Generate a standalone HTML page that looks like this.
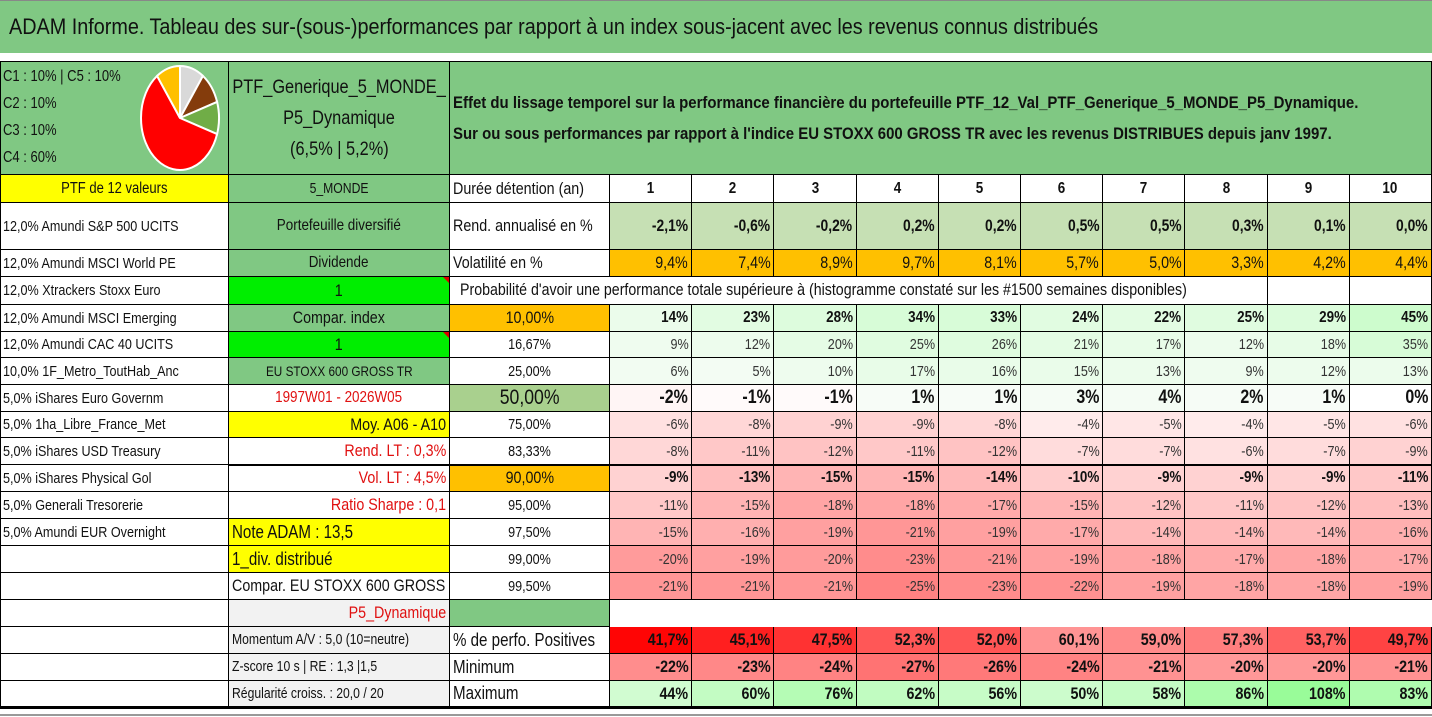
<!DOCTYPE html>
<html><head><meta charset="utf-8">
<style>
html,body{margin:0;padding:0;background:#fff;}
#root{position:relative;width:1432px;height:717px;overflow:hidden;font-family:"Liberation Sans",sans-serif;color:#111;}
.c{position:absolute;box-sizing:border-box;display:flex;align-items:center;overflow:hidden;white-space:nowrap;}
.c span{display:inline-block;transform:scaleX(0.84);}
.l{justify-content:flex-start;padding-left:3px;}
.l span{transform-origin:left center;}
.r{justify-content:flex-end;padding-right:3px;}
.r span{transform-origin:right center;}
.m{justify-content:center;}
.m span{transform-origin:center center;}
.ln{position:absolute;background:#000;}
</style></head><body>
<div id="root"></div>
<script>
const years = ["1","2","3","4","5","6","7","8","9","10"];
const rendAnnualise = [-2.1,-0.6,-0.2,0.2,0.2,0.5,0.5,0.3,0.1,0.0];
const volatilite = [9.4,7.4,8.9,9.7,8.1,5.7,5.0,3.3,4.2,4.4];
const quantileLabels = ["10,00%","16,67%","25,00%","50,00%","75,00%","83,33%","90,00%","95,00%","97,50%","99,00%","99,50%"];
const q10 = [14,23,28,34,33,24,22,25,29,45];
const q1667 = [9,12,20,25,26,21,17,12,18,35];
const q25 = [6,5,10,17,16,15,13,9,12,13];
const q50 = [-2,-1,-1,1,1,3,4,2,1,0];
const q75 = [-6,-8,-9,-9,-8,-4,-5,-4,-5,-6];
const q8333 = [-8,-11,-12,-11,-12,-7,-7,-6,-7,-9];
const q90 = [-9,-13,-15,-15,-14,-10,-9,-9,-9,-11];
const q95 = [-11,-15,-18,-18,-17,-15,-12,-11,-12,-13];
const q975 = [-15,-16,-19,-21,-19,-17,-14,-14,-14,-16];
const q99 = [-20,-19,-20,-23,-21,-19,-18,-17,-18,-17];
const q995 = [-21,-21,-21,-25,-23,-22,-19,-18,-18,-19];
const pctPositives = [41.7,45.1,47.5,52.3,52.0,60.1,59.0,57.3,53.7,49.7];
const minimum = [-22,-23,-24,-27,-26,-24,-21,-20,-20,-21];
const maximum = [44,60,76,62,56,50,58,86,108,83];
const pieLabels = ["C1","C2","C3","C4","C5"];
const pieShares = [10,10,10,60,10];
const holdings = ["12,0% Amundi S&P 500 UCITS","12,0% Amundi MSCI World PE","12,0% Xtrackers Stoxx Euro","12,0% Amundi MSCI Emerging","12,0% Amundi CAC 40 UCITS","10,0% 1F_Metro_ToutHab_Anc","5,0% iShares Euro Governm","5,0% 1ha_Libre_France_Met","5,0% iShares USD Treasury","5,0% iShares Physical Gol","5,0% Generali Tresorerie","5,0% Amundi EUR Overnight"];

const root = document.getElementById('root');
const RY = [175,203,250,277,305,332,358,385,412,438,465,492,519,546,573,600,627,654,681,707];
const X0 = 610, CW = 82.2;
function colX(i){ return X0 + i*CW; }
function cell(x,y,w,h,txt,o){
  o=o||{};
  const d=document.createElement('div');
  d.className='c '+(o.a||'m');
  d.style.left=x+'px';d.style.top=y+'px';d.style.width=w+'px';d.style.height=h+'px';
  if(o.bg) d.style.background=o.bg;
  d.style.fontSize=(o.fs||13)+'px';
  if(o.b) d.style.fontWeight='bold';
  if(o.col) d.style.color=o.col;
  if(o.border!==false){d.style.borderRight='1px solid #000';d.style.borderBottom='1px solid #000';}
  if(txt!==''&&txt!=null){const s=document.createElement('span');s.textContent=txt;if(o.sx)s.style.transform='scaleX('+o.sx+')';d.appendChild(s);}
  root.appendChild(d);
  return d;
}
function fmtPct(v,dec){return v.toFixed(dec).replace('.',',')+'%';}
function redCol(v,max){const t=Math.min(1,Math.abs(v)/max);const c=Math.round(255-150*t);return 'rgb(255,'+c+','+c+')';}
function greenCol(v,max){const t=Math.min(1,v/max);const c=Math.round(248-110*t);return 'rgb('+c+',252,'+c+')';}
function heat(v){ if(v<0) return redCol(v,30); if(v===0) return '#fff'; return greenCol(v,115); }

// Title
let d=cell(0,0,1432,53,'ADAM Informe. Tableau des sur-(sous-)performances par rapport à un index sous-jacent avec les revenus connus distribués',{a:'l',bg:'#80c883',fs:22,border:false,sx:0.9});
d.style.paddingLeft='9px';d.style.borderTop='1px solid #888';



// Header block
d=cell(0,61,229,114,'',{bg:'#80c883'});
d.style.borderTop='1px solid #000';


const legendTxt=["C1 : 10% | C5 : 10%","C2 : 10%","C3 : 10%","C4 : 60%"];
legendTxt.forEach((t,i)=>{const e=cell(0,64+i*27,145,26,t,{a:'l',fs:15.5,border:false});

});
const svgNS='http://www.w3.org/2000/svg';
const svg=document.createElementNS(svgNS,'svg');
svg.setAttribute('width','229');svg.setAttribute('height','114');
svg.style.position='absolute';svg.style.left='0px';svg.style.top='61px';


const pieColors={C1:'#d9d9d9',C2:'#843c0c',C3:'#70ad47',C4:'#ff0000',C5:'#ffc000'};
const cx=180,cy=57,rx=39,ry=52;
let total=pieShares.reduce((a,b)=>a+b,0),acc=0;
const drawOrder=["C1","C2","C3","C4","C5"];
drawOrder.forEach(lbl=>{
  const i=pieLabels.indexOf(lbl);const v=pieShares[i];
  const a0=acc/total*2*Math.PI;acc+=v;const a1=acc/total*2*Math.PI;
  const p=(a)=>[cx+rx*Math.sin(a),cy-ry*Math.cos(a)];
  const [x0,y0]=p(a0),[x1,y1]=p(a1);
  const path=document.createElementNS(svgNS,'path');
  path.setAttribute('d','M'+cx+','+cy+' L'+x0+','+y0+' A'+rx+','+ry+' 0 '+((a1-a0)>Math.PI?1:0)+' 1 '+x1+','+y1+' Z');
  path.setAttribute('fill',pieColors[lbl]);path.setAttribute('stroke','#fff');path.setAttribute('stroke-width','2');
  
  
  svg.appendChild(path);
});
root.appendChild(svg);

d=cell(229,61,221,114,'',{bg:'#80c883'});
d.style.borderTop='1px solid #000';d.style.flexDirection='column';


["PTF_Generique_5_MONDE_","P5_Dynamique","(6,5% | 5,2%)"].forEach(t=>{const s=document.createElement('span');s.textContent=t;s.style.fontSize='19px';s.style.lineHeight='31px';s.style.transformOrigin='center';s.style.transform='scaleX(0.86)';d.appendChild(s);});
d=cell(450,61,982,114,'',{bg:'#80c883'});
d.style.borderTop='1px solid #000';d.style.flexDirection='column';d.style.alignItems='flex-start';d.style.paddingLeft='3px';


["Effet du lissage temporel sur la performance financière du portefeuille PTF_12_Val_PTF_Generique_5_MONDE_P5_Dynamique.","Sur ou sous performances par rapport à l'indice EU STOXX 600 GROSS TR avec les revenus DISTRIBUES depuis janv 1997."].forEach(t=>{const s=document.createElement('span');s.textContent=t;s.style.fontSize='17px';s.style.fontWeight='bold';s.style.lineHeight='31px';s.style.transform='scaleX(0.88)';s.style.transformOrigin='left center';d.appendChild(s);});

// Left column
d=cell(0,RY[0],229,RY[1]-RY[0],'PTF de 12 valeurs',{bg:'#ffff00',fs:15.5});


for(let r=1;r<19;r++){
  const t=holdings[r-1]||'';
  const e=cell(0,RY[r],229,RY[r+1]-RY[r],t,{a:'l',fs:15});
  
  
}
// Middle column
const mid=[
 ['5_MONDE',{bg:'#80c883',fs:14.5}],
 ['Portefeuille diversifié',{bg:'#80c883',fs:16}],
 ['Dividende',{bg:'#80c883',fs:16}],
 ['1',{bg:'#00ee00',fs:17}],
 ['Compar. index',{bg:'#80c883',fs:17}],
 ['1',{bg:'#00ee00',fs:17}],
 ['EU STOXX 600 GROSS TR',{bg:'#80c883',fs:14}],
 ['1997W01 - 2026W05',{col:'#e01010',fs:16}],
 ['Moy. A06 - A10',{bg:'#ffff00',fs:17,a:'r'}],
 ['Rend. LT : 0,3%',{col:'#e01010',fs:17,a:'r'}],
 ['Vol. LT : 4,5%',{col:'#e01010',fs:17,a:'r'}],
 ['Ratio Sharpe : 0,1',{col:'#e01010',fs:17,a:'r'}],
 ['Note ADAM : 13,5',{bg:'#ffff00',fs:18,a:'l'}],
 ['1_div. distribué',{bg:'#ffff00',fs:18,a:'l'}],
 ['Compar. EU STOXX 600 GROSS TR',{fs:17,a:'l'}],
 ['P5_Dynamique',{bg:'#f2f2f2',col:'#e01010',fs:17,a:'r'}],
 ['Momentum A/V : 5,0 (10=neutre)',{bg:'#f2f2f2',fs:14.5,a:'l'}],
 ['Z-score 10 s | RE : 1,3 |1,5',{bg:'#f2f2f2',fs:14.5,a:'l'}],
 ['Régularité croiss. : 20,0 / 20',{bg:'#f2f2f2',fs:14.5,a:'l'}]
];
mid.forEach((m,r)=>{const e=cell(229,RY[r],221,RY[r+1]-RY[r],m[0],m[1]);


if(r===3||r===5){const tri=document.createElement('div');tri.style.cssText='position:absolute;right:0;top:0;width:0;height:0;border-top:6px solid #d00;border-left:6px solid transparent;';e.appendChild(tri);}
});
const lab=[['Durée détention (an)',{a:'l',fs:17}],['Rend. annualisé en %',{a:'l',fs:17}],['Volatilité en %',{a:'l',fs:17}]];
lab.forEach((m,r)=>{const e=cell(450,RY[r],160,RY[r+1]-RY[r],m[0],m[1]);

});
d=cell(450,RY[3],colX(8)-450,RY[4]-RY[3],"Probabilité d'avoir une performance totale supérieure à (histogramme constaté sur les #1500 semaines disponibles)",{a:'l',fs:16.5,sx:0.86});
d.style.paddingLeft='10px';


for(let i=8;i<10;i++){const e=cell(colX(i),RY[3],CW,RY[4]-RY[3],'',{});

}
const qRows=[q10,q1667,q25,q50,q75,q8333,q90,q95,q975,q99,q995];
quantileLabels.forEach((q,k)=>{
  const r=4+k;let o={fs:15};
  if(k===0||k===6){o.bg='#ffc000';o.fs=17;}
  if(k===3){o.bg='#a9d08e';o.fs=21;}
  const e=cell(450,RY[r],160,RY[r+1]-RY[r],q,o);
  
  
});
d=cell(450,RY[15],160,RY[16]-RY[15],'',{bg:'#80c883'});


d=cell(610,RY[15],822,RY[16]-RY[15],'',{border:false});


[['% de perfo. Positives',16],['Minimum',17],['Maximum',18]].forEach(m=>{const e=cell(450,RY[m[1]],160,RY[m[1]+1]-RY[m[1]],m[0],{a:'l',fs:18});

});

years.forEach((y,i)=>{
  const x=colX(i);
  let e=cell(x,RY[0],CW,RY[1]-RY[0],y,{fs:16,b:true});
  
  
  e=cell(x,RY[1],CW,RY[2]-RY[1],fmtPct(rendAnnualise[i],1),{a:'r',bg:'#c6e0b4',fs:16.5,b:true});
  
  
  e=cell(x,RY[2],CW,RY[3]-RY[2],fmtPct(volatilite[i],1),{a:'r',bg:'#ffc000',fs:17});
  
  
  qRows.forEach((arr,k)=>{
    const v=arr[i];const bold=(k===0||k===3||k===6);
    e=cell(x,RY[4+k],CW,RY[5+k]-RY[4+k],v+'%',{a:'r',bg:heat(v),fs:k===3?19:(bold?16:15),b:bold,col:bold?'#111':'#333'});
    
    
  });
  const pv=pctPositives[i];const t=Math.max(0,Math.min(1,(61-pv)/19.3));const cc=Math.round(155-150*t);
  e=cell(x,RY[16],CW,RY[17]-RY[16],fmtPct(pv,1),{a:'r',bg:'rgb(255,'+cc+','+cc+')',fs:17,b:true});
  
  
  e=cell(x,RY[17],CW,RY[18]-RY[17],minimum[i]+'%',{a:'r',bg:redCol(minimum[i],29),fs:17,b:true});
  
  
  e=cell(x,RY[18],CW,RY[19]-RY[18],maximum[i]+'%',{a:'r',bg:greenCol(maximum[i],125),fs:17,b:true});
  
  
});
let ln=document.createElement('div');ln.className='ln';ln.style.cssText='left:229px;top:464px;width:1203px;height:2px;';


root.appendChild(ln);
ln=document.createElement('div');ln.className='ln';ln.style.cssText='left:0;top:706px;width:1432px;height:3px;';


root.appendChild(ln);
ln=document.createElement('div');ln.className='ln';ln.style.cssText='left:0;top:714px;width:1432px;height:2px;background:#999;';


root.appendChild(ln);
ln=document.createElement('div');ln.className='ln';ln.style.cssText='left:0;top:61px;width:1px;height:646px;';


root.appendChild(ln);
</script>
</body></html>
